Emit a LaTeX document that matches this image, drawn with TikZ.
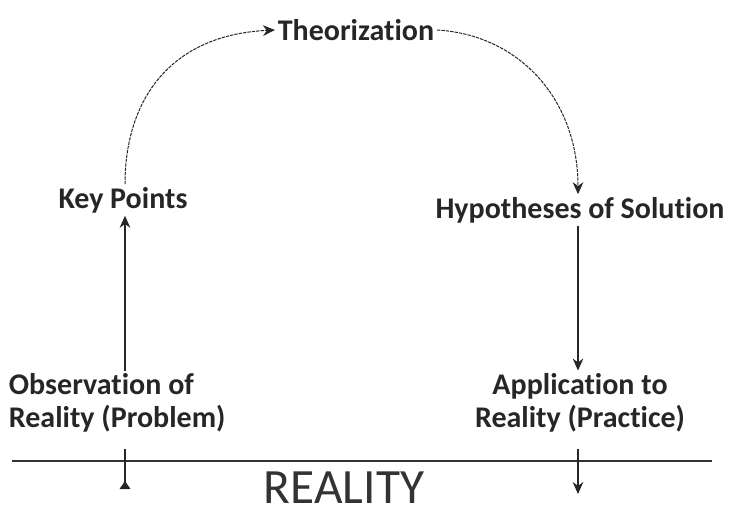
\documentclass[tikz,border=0pt]{standalone}
\usepackage{fontspec}
\setmainfont{Carlito}[Ligatures=NoCommon]
\usetikzlibrary{positioning,arrows.meta}

\begin{document}
\begin{tikzpicture}[
    x=0.75pt, y=-0.75pt,
    stage/.style={align=center, font=\fontsize{22.5}{25}\selectfont\bfseries, text=black!85, inner sep=2pt},
    ground/.style={font=\fontsize{37}{40}\selectfont, text=black!80, inner sep=0pt},
    flow/.style={-{Stealth[length=9pt,width=8pt]}, line width=0.8pt, draw=black!85},
    loop/.style={flow, line width=0.75pt, dash pattern=on 2.5pt off 0.8pt},
    tick/.style={line width=0.8pt, draw=black!85},
]
\useasboundingbox (0,0) rectangle (732,517);

\node[stage] (theo) at (356,30) {Theorization};
\node[stage] (key)  at (123,200) {Key Points};
\node[stage] (hyp)  at (580,210) {Hypotheses of Solution};
\node[stage, align=left, anchor=west] (obs) at (6,403) {Observation of\\Reality (Problem)};
\node[stage] (app)  at (580,403) {Application to\\Reality (Practice)};
\node[ground] (real) at (344,488) {REALITY};

% the line of reality
\coordinate (gl) at (12,461);
\coordinate (gr) at (712,461);
\draw[line width=2.2pt, black!80] (gl) -- (gr);

% the cycle
\draw[flow] (obs.north -| 125,0) -- (key.south -| 125,0);
\draw[loop] (key.north -| 125,0) .. controls (125,100) and (170,35) .. (theo.west);
\draw[loop] (theo.east) .. controls (520,35) and (578,100) .. (hyp.north -| 578,0);
\draw[flow] (hyp.south -| 578,0) -- (app.north -| 578,0);

% ticks through the line
\coordinate (otop) at (125,449);
\coordinate (obot) at (125,489);
\coordinate (atop) at (578,449);
\coordinate (abot) at (578,494);
\draw[tick, -{Triangle[reversed,length=6pt,width=8pt]}] (otop) -- (obot);
\draw[flow] (atop) -- (abot);
\end{tikzpicture}
\end{document}
